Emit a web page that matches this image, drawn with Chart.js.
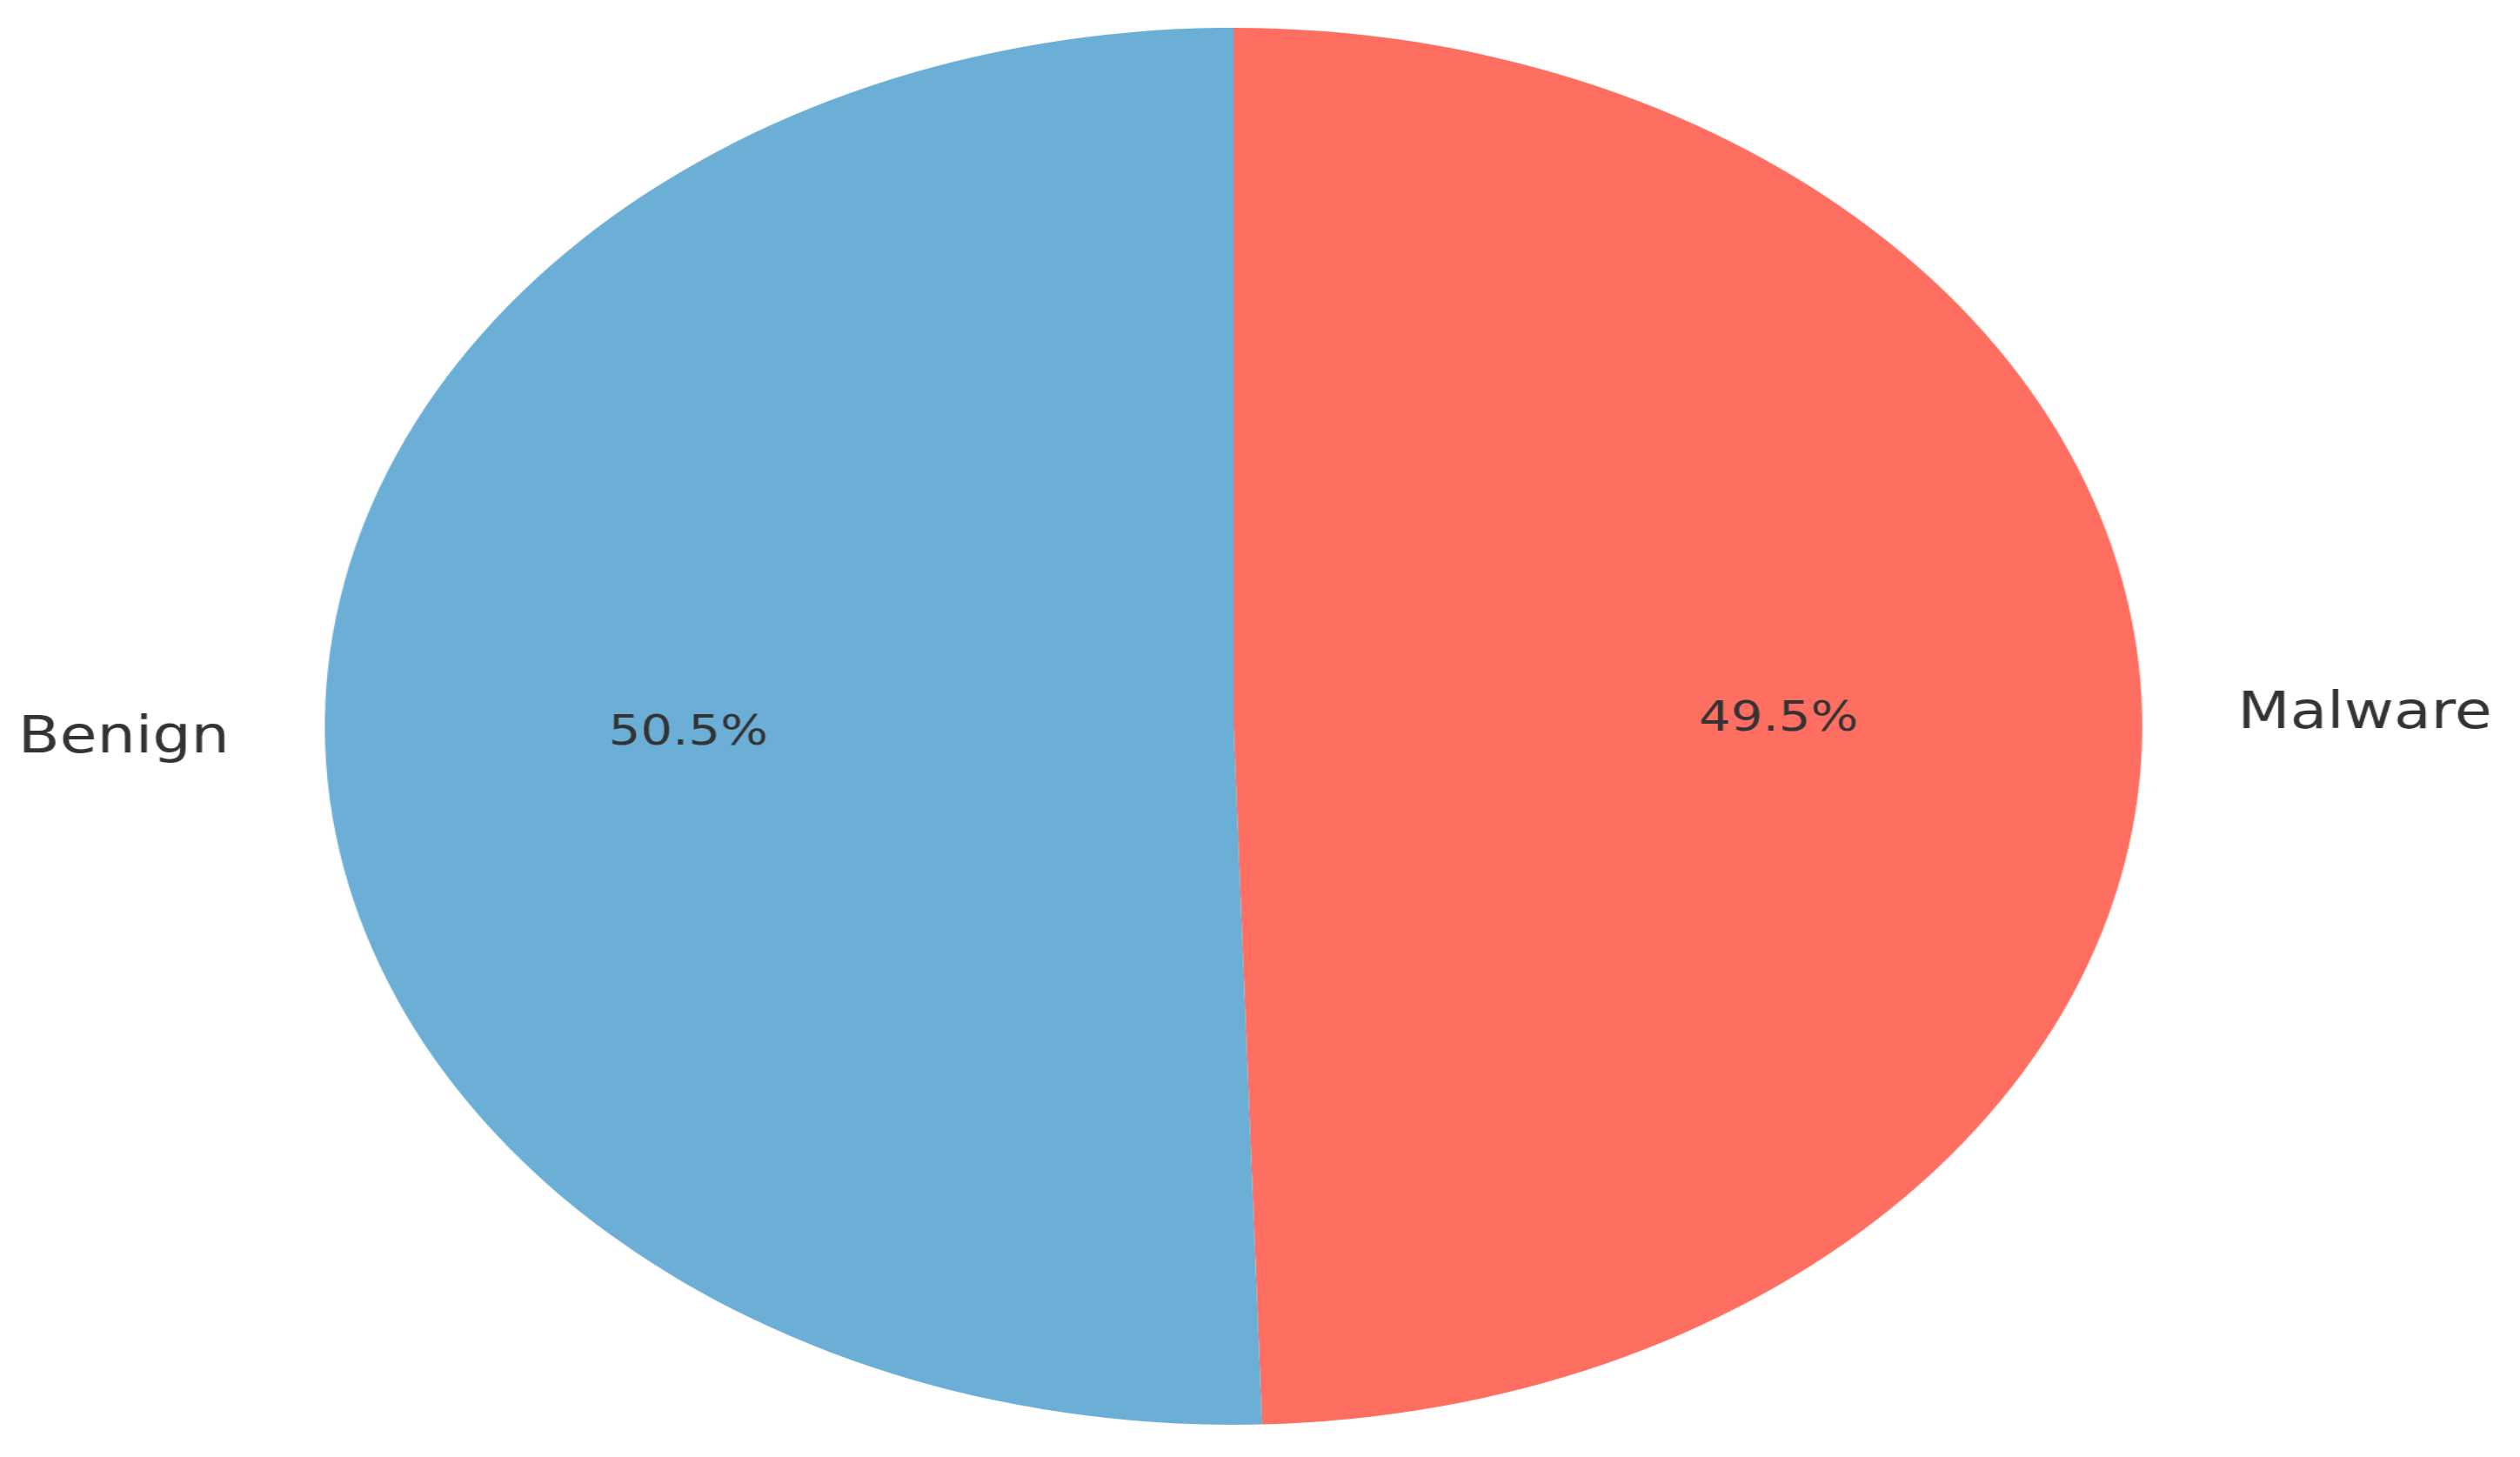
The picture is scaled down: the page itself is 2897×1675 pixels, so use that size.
<!DOCTYPE html>
<html>
<head>
<meta charset="utf-8">
<script src="https://cdn.jsdelivr.net/npm/chart.js@4/dist/chart.umd.min.js"></script>
<style>
    html, body { margin: 0; padding: 0; background: #ffffff; overflow: hidden; }
    /* the original figure is stretched sideways, so the pie is an ellipse */
    #wrap {
        position: absolute; left: 0; top: 0;
        width: 2227px; height: 1675px;
        transform: scaleX(1.301); transform-origin: left top;
    }
</style>
</head>
<body>
<div id="wrap"><canvas id="pieChart"></canvas></div>
<script>
// Data (drawn clockwise from the top)
const labels = ["Malware", "Benign"];
const shares = [49.5, 50.5];
const sliceColors = ["#ff6f61", "#6baed6"];

const TEXT_SCALE = 0.925; // text is stretched less than the pie in the reference

// Outside labels and percent labels, placed from the arcs' own geometry
const pieLabels = {
    id: "pieLabels",
    afterDatasetsDraw(chart) {
        const ctx = chart.ctx;
        const meta = chart.getDatasetMeta(0);
        meta.data.forEach((arc, i) => {
            const p = arc.getProps(["x", "y", "startAngle", "endAngle", "outerRadius"], true);
            const mid = (p.startAngle + p.endAngle) / 2;
            const cos = Math.cos(mid), sin = Math.sin(mid);

            // category name at 1.1 r
            drawText(ctx, labels[i], p.x + cos * p.outerRadius * 1.105, p.y + sin * p.outerRadius * 1.1,
                58, cos >= 0 ? "left" : "right");
            // percentage at 0.6 r
            drawText(ctx, shares[i].toFixed(1) + "%", p.x + cos * p.outerRadius * 0.6, p.y + sin * p.outerRadius * 0.6,
                48, "center");
        });
    }
};

function drawText(ctx, text, x, y, size, align) {
    ctx.save();
    ctx.translate(x, y + size * 0.27);
    ctx.scale(TEXT_SCALE, 1);
    ctx.font = size + "px 'DejaVu Sans'";
    ctx.fillStyle = "#333333";
    ctx.textAlign = align;
    ctx.textBaseline = "alphabetic";
    ctx.fillText(text, 0, 0);
    ctx.restore();
}

new Chart(document.getElementById("pieChart"), {
    type: "pie",
    data: {
        labels: labels,
        datasets: [{
            data: shares,
            backgroundColor: sliceColors,
            borderWidth: 0
        }]
    },
    options: {
        responsive: true,
        maintainAspectRatio: false,
        animation: false,
        layout: { padding: { top: 32, bottom: 37, left: 287, right: 334 } },
        plugins: {
            legend: { display: false },
            tooltip: { enabled: false }
        }
    },
    plugins: [pieLabels]
});
</script>
</body>
</html>
